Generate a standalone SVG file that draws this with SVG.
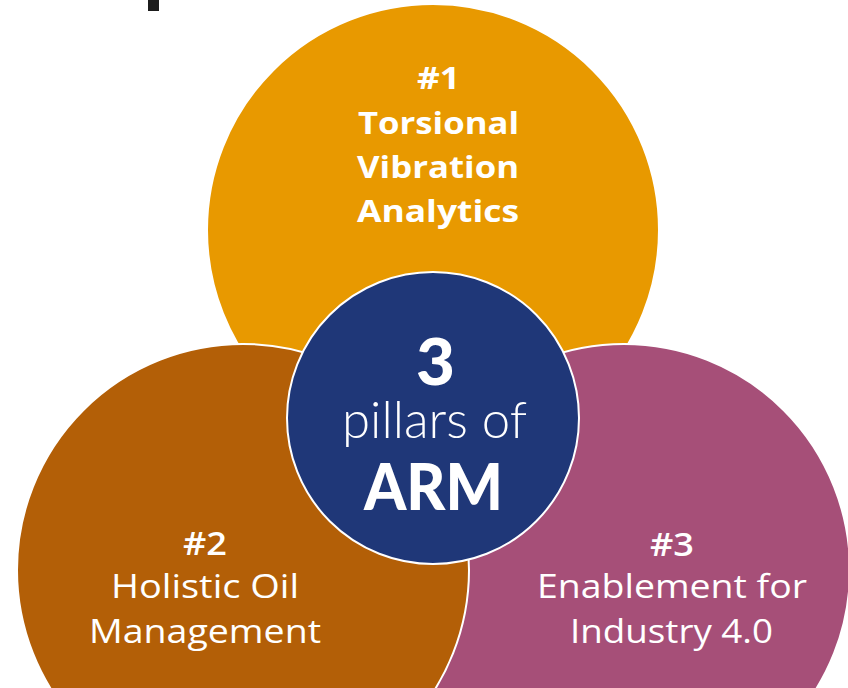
<svg xmlns="http://www.w3.org/2000/svg" width="848" height="688" viewBox="0 0 848 688">
<style>
.c{stroke:#fff;stroke-width:2}
.t{font-family:"Open Sans","Liberation Sans",sans-serif;fill:#fff;text-anchor:middle}
.b{font-weight:700;font-size:30px}
.r{font-weight:400;font-size:33px}
.h{font-weight:600;font-size:33px}
.m{font-family:Lato,"Open Sans",sans-serif;fill:#fff;text-anchor:middle}
</style>
<rect width="848" height="688" fill="#fff"/>
<rect x="148" y="0" width="11" height="11" fill="#1c1c1c"/>
<g id="pillar1">
<circle class="c" cx="433" cy="230" r="226" fill="#E89900"/>
</g>
<g id="pillar3">
<circle class="c" cx="624" cy="570" r="226" fill="#A64F78"/>
</g>
<g id="pillar2">
<circle class="c" cx="243" cy="570" r="226" fill="#B35F07"/>
</g>
<g id="connectors"></g>
<g id="labels1">
<text class="t b" x="438.5" y="89" textLength="43" lengthAdjust="spacingAndGlyphs">#1</text>
<text class="t b" x="438.5" y="134" textLength="161" lengthAdjust="spacingAndGlyphs">Torsional</text>
<text class="t b" x="438" y="178" textLength="162" lengthAdjust="spacingAndGlyphs">Vibration</text>
<text class="t b" x="438" y="222" textLength="162" lengthAdjust="spacingAndGlyphs">Analytics</text>
</g>
<g id="labels2">
<text class="t h" x="205" y="555" textLength="44" lengthAdjust="spacingAndGlyphs">#2</text>
<text class="t r" x="205" y="598" textLength="188" lengthAdjust="spacingAndGlyphs">Holistic Oil</text>
<text class="t r" x="205" y="643" textLength="232" lengthAdjust="spacingAndGlyphs">Management</text>
</g>
<g id="labels3">
<text class="t h" x="672" y="556" textLength="44" lengthAdjust="spacingAndGlyphs">#3</text>
<text class="t r" x="672" y="598" textLength="270" lengthAdjust="spacingAndGlyphs">Enablement for</text>
<text class="t r" x="671.5" y="643" textLength="203" lengthAdjust="spacingAndGlyphs">Industry 4.0</text>
</g>
<g id="center">
<circle class="c" cx="433" cy="418" r="146" fill="#1F3778"/>
<text class="m" x="435.5" y="385" font-size="64" font-weight="900" textLength="39" lengthAdjust="spacingAndGlyphs">3</text>
<text class="m" x="434.5" y="438" font-size="51" font-weight="300" textLength="185" lengthAdjust="spacingAndGlyphs">pillars of</text>
<text class="m" x="433.5" y="510" font-size="65" font-weight="900" textLength="139" lengthAdjust="spacingAndGlyphs">ARM</text>
</g>
</svg>
